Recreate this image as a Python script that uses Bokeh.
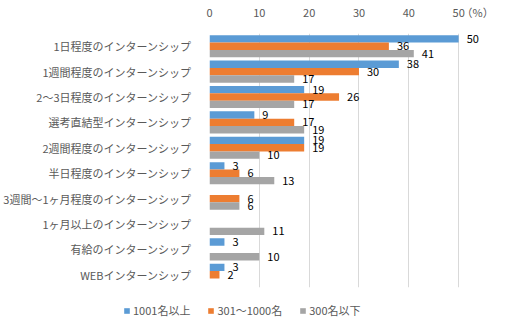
from bokeh.plotting import figure
from bokeh.layouts import column, row
from bokeh.core.properties import value
from bokeh.models import ColumnDataSource, FactorRange, LabelSet, Legend, LegendItem, FixedTicker, Range1d
from bokeh.transform import dodge
from bokeh.embed import file_html
from bokeh.resources import INLINE

categories = ["1日程度のインターンシップ", "1週間程度のインターンシップ", "2～3日程度のインターンシップ",
              "選考直結型インターンシップ", "2週間程度のインターンシップ", "半日程度のインターンシップ",
              "3週間～1ヶ月程度のインターンシップ", "1ヶ月以上のインターンシップ",
              "有給のインターンシップ", "WEBインターンシップ"]
large = [50, 38, 19, 9, 19, 3, None, None, 3, 3]
medium = [36, 30, 26, 17, 19, 6, 6, None, None, 2]
small = [41, 17, 17, 19, 10, 13, 6, 11, 10, None]
series_names = ["1001名以上", "301～1000名", "300名以下"]
colors = ["#5B9BD5", "#ED7D31", "#A5A5A5"]
ticks = [0, 10, 20, 30, 40, 50]
unit_label = "（%）"

FONT = "Noto Sans CJK JP"

p = figure(width=508, height=295, output_backend="svg", toolbar_location=None,
           y_range=FactorRange(*reversed(categories)), x_range=Range1d(0, 58),
           x_axis_location="above", min_border_left=207, min_border_right=10,
           min_border_top=28, min_border_bottom=8)
p.outline_line_color = None
p.background_fill_color = None
p.border_fill_color = "white"

bar_h = 0.29
offsets = [bar_h, 0.0, -bar_h]
for vals, name, col, off in zip([large, medium, small], series_names, colors, offsets):
    cats = [c for c, v in zip(categories, vals) if v is not None]
    vs = [v for v in vals if v is not None]
    src = ColumnDataSource(dict(cat=cats, val=vs, txt=[str(v) for v in vs]))
    p.hbar(y=dodge("cat", off, range=p.y_range), right="val", left=0, height=bar_h,
           source=src, fill_color=col, line_color=None)
    p.add_layout(LabelSet(x="val", y=dodge("cat", off, range=p.y_range), text="txt", source=src,
                          x_offset=8, text_baseline="middle", text_align="left",
                          text_font=value(FONT), text_font_size="11px", text_color="#000000"))

unit_pos = 53.8
p.xaxis.ticker = FixedTicker(ticks=ticks + [unit_pos])
p.xaxis.major_label_overrides = {unit_pos: unit_label}
p.xgrid.ticker = FixedTicker(ticks=ticks)
p.xgrid.grid_line_color = "#D9D9D9"
p.ygrid.grid_line_color = None
for ax in [p.xaxis[0], p.yaxis[0]]:
    ax.axis_line_color = None
    ax.major_tick_line_color = None
    ax.minor_tick_line_color = None
    ax.major_label_text_font = FONT
    ax.major_label_text_font_size = "11px"
    ax.major_label_text_color = "#595959"
p.xaxis.major_label_standoff = 8
p.yaxis.major_label_standoff = 12

# legend strip (keys only: zero-length bars so nothing is drawn)
lg = figure(width=508, height=34, output_backend="svg", toolbar_location=None,
            x_range=Range1d(0, 1), y_range=Range1d(0, 1), min_border=0)
lg.axis.visible = False
lg.grid.visible = False
lg.outline_line_color = None
lg.border_fill_color = "white"
dummy = []
for col in colors:
    dummy.append(lg.hbar(y=[0.5], left=[0], right=[0], height=0.0, fill_color=col, line_color=None))
legend = Legend(items=[LegendItem(label=n, renderers=[r]) for n, r in zip(series_names, dummy)],
                orientation="horizontal", location=(123, 11), glyph_width=7, glyph_height=7,
                label_height=11, label_standoff=3, spacing=17, padding=0, margin=0,
                border_line_color=None, background_fill_alpha=0,
                label_text_font=FONT, label_text_font_size="11px", label_text_color="#595959")
lg.add_layout(legend)

layout = column(p, row(lg, spacing=0), spacing=0)
open("out.html", "w").write(file_html(layout, INLINE))
